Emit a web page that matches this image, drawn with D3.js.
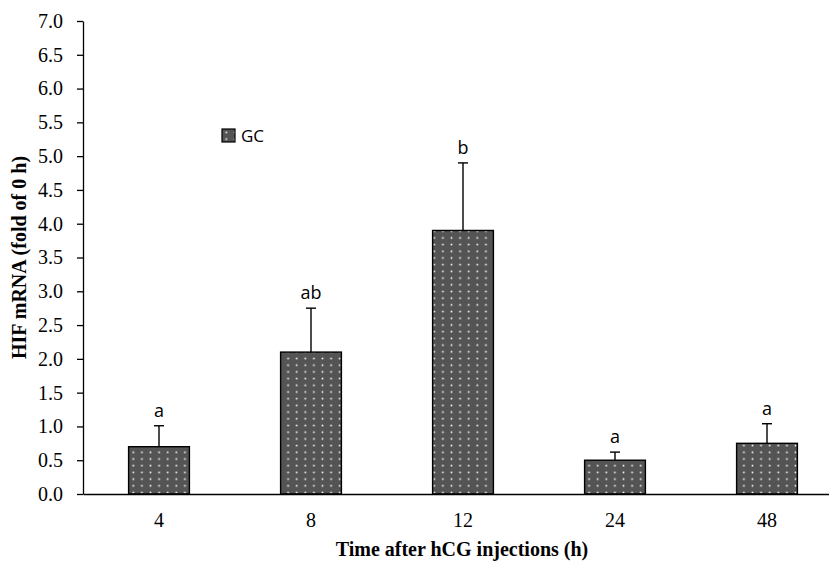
<!DOCTYPE html>
<html>
<head>
<meta charset="utf-8">
<script src="https://cdn.jsdelivr.net/npm/d3@7"></script>
<style>
  body { margin: 0; background: #fff; }
  svg { display: block; }
</style>
</head>
<body>
<svg id="chart"></svg>
<script>
// data
var categories = ["4", "8", "12", "24", "48"];
var means = [0.70, 2.10, 3.90, 0.50, 0.75];
var errors = [0.31, 0.65, 1.00, 0.12, 0.29];
var letters = ["a", "ab", "b", "a", "a"];
var yTicks = [0, 0.5, 1, 1.5, 2, 2.5, 3, 3.5, 4, 4.5, 5, 5.5, 6, 6.5, 7];
var seriesName = "GC";

var width = 829, height = 563;
var plotLeft = 83, plotTop = 21, plotBottom = 494;
var serif = "'Liberation Serif', 'Times New Roman', serif";
var sans = "'Open Sans', sans-serif";

var svg = d3.select("#chart")
    .attr("width", width)
    .attr("height", height);

// dotted fill for the bars
var defs = svg.append("defs");
var pat = defs.append("pattern")
    .attr("id", "dots")
    .attr("patternUnits", "userSpaceOnUse")
    .attr("width", 8.6)
    .attr("height", 6.7);
pat.append("rect").attr("width", 8.6).attr("height", 6.7).attr("fill", "#545454");
pat.append("rect").attr("x", 3.5).attr("y", 2.6).attr("width", 1.6).attr("height", 1.6).attr("fill", "#fff");

var x = d3.scaleBand()
    .domain(categories)
    .range([plotLeft, plotLeft + 760])
    .paddingInner(0.6)
    .paddingOuter(0.3);

var y = d3.scaleLinear()
    .domain([0, 7])
    .range([plotBottom, plotTop]);

// y axis
var yAxis = svg.append("g")
    .attr("transform", "translate(" + plotLeft + ",0)")
    .call(d3.axisLeft(y).tickValues(yTicks).tickFormat(d3.format(".1f")).tickSize(6).tickSizeOuter(0));
yAxis.attr("font-family", serif).attr("font-size", 20);
yAxis.select(".domain").attr("stroke", "#000").attr("stroke-width", 1.3);
yAxis.selectAll(".tick line").attr("stroke", "#000").attr("stroke-width", 1.3);
yAxis.selectAll(".tick text")
    .attr("x", -20)
    .attr("fill", "#000");

// bars
var g = svg.append("g");
g.selectAll("rect.bar")
    .data(means)
    .enter()
    .append("rect")
    .attr("class", "bar")
    .attr("x", function(d, i) { return x(categories[i]); })
    .attr("y", function(d) { return y(d); })
    .attr("width", x.bandwidth())
    .attr("height", function(d) { return plotBottom - y(d); })
    .attr("fill", "url(#dots)")
    .attr("stroke", "#000")
    .attr("stroke-width", 1.4);

// error bars (upper only)
g.selectAll("line.err")
    .data(means)
    .enter()
    .append("line")
    .attr("class", "err")
    .attr("x1", function(d, i) { return x(categories[i]) + x.bandwidth() / 2; })
    .attr("x2", function(d, i) { return x(categories[i]) + x.bandwidth() / 2; })
    .attr("y1", function(d) { return y(d); })
    .attr("y2", function(d, i) { return y(d + errors[i]); })
    .attr("stroke", "#000")
    .attr("stroke-width", 1.4);

g.selectAll("line.cap")
    .data(means)
    .enter()
    .append("line")
    .attr("class", "cap")
    .attr("x1", function(d, i) { return x(categories[i]) + x.bandwidth() / 2 - 5; })
    .attr("x2", function(d, i) { return x(categories[i]) + x.bandwidth() / 2 + 5; })
    .attr("y1", function(d, i) { return y(d + errors[i]); })
    .attr("y2", function(d, i) { return y(d + errors[i]); })
    .attr("stroke", "#000")
    .attr("stroke-width", 1.4);

// significance letters
g.selectAll("text.sig")
    .data(means)
    .enter()
    .append("text")
    .attr("class", "sig")
    .attr("x", function(d, i) { return x(categories[i]) + x.bandwidth() / 2; })
    .attr("y", function(d, i) { return y(d + errors[i]) - 9; })
    .attr("text-anchor", "middle")
    .attr("font-family", sans)
    .attr("font-size", 18)
    .attr("fill", "#000")
    .text(function(d, i) { return letters[i]; });

// x axis (baseline, no ticks)
var xAxis = svg.append("g")
    .attr("transform", "translate(0," + plotBottom + ")")
    .call(d3.axisBottom(x).tickSize(0).tickPadding(19));
xAxis.attr("font-family", serif).attr("font-size", 20);
xAxis.select(".domain").attr("stroke", "#000").attr("stroke-width", 1.3);
xAxis.selectAll(".tick text").attr("fill", "#000");

// axis titles
svg.append("text")
    .attr("transform", "translate(26," + (plotTop + plotBottom) / 2 + ") rotate(-90)")
    .attr("text-anchor", "middle")
    .attr("font-family", serif)
    .attr("font-weight", "bold")
    .attr("font-size", 20)
    .text("HIF mRNA (fold of 0 h)");

svg.append("text")
    .attr("x", 462)
    .attr("y", 556)
    .attr("text-anchor", "middle")
    .attr("font-family", serif)
    .attr("font-weight", "bold")
    .attr("font-size", 20)
    .text("Time after hCG injections (h)");

// legend
var legend = svg.append("g").attr("transform", "translate(222,129)");
legend.append("rect")
    .attr("width", 13)
    .attr("height", 13)
    .attr("fill", "url(#dots)")
    .attr("stroke", "#000")
    .attr("stroke-width", 1.2);
legend.append("text")
    .attr("x", 19)
    .attr("y", 13)
    .attr("font-family", sans)
    .attr("font-size", 17)
    .attr("fill", "#000")
    .text(seriesName);
</script>
</body>
</html>
